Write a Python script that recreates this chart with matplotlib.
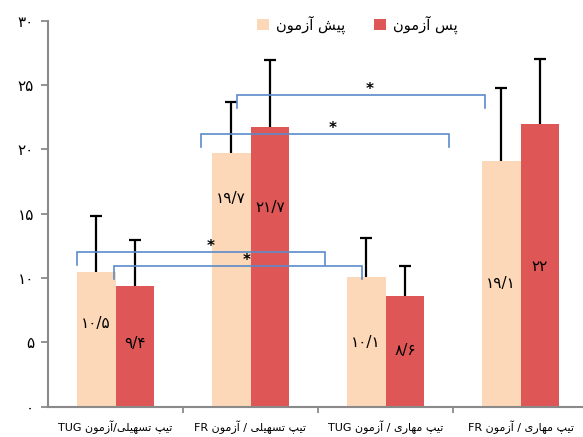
import re
import numpy as np
import matplotlib
matplotlib.use("Agg")
import matplotlib.pyplot as plt

plt.rcParams["font.family"] = ["DejaVu Sans"]

# data
categories = ["تیپ تسهیلی/آزمون TUG", "تیپ تسهیلی / آزمون FR",
              "تیپ مهاری / آزمون TUG", "تیپ مهاری / آزمون FR"]
pre_label = "پیش آزمون"
post_label = "پس آزمون"
pre_vals = [10.5, 19.7, 10.1, 19.1]
post_vals = [9.4, 21.7, 8.6, 22.0]
pre_err = [4.3, 4.0, 3.0, 5.7]
post_err = [3.55, 5.25, 2.35, 5.0]
y_ticks = [0, 5, 10, 15, 20, 25, 30]
# significance brackets: (x start, x end, height) in axis units
brackets = [(-0.285, 1.55, 12.0), (-0.01, 1.825, 10.9),
            (0.635, 2.47, 21.2), (0.9, 2.735, 24.2)]
star_x = [0.705, 0.975, 1.61, 1.885]

# where the value labels sit inside the bars (layout only)
pre_label_y = [6.5, 16.15, 5.0, 9.6]
post_label_y = [4.95, 15.5, 4.4, 10.9]

C_PRE, C_POST, C_BR = "#FCD8B8", "#DE5656", "#5B8BC9"
GREY = "#8A8A8A"

# ---- minimal Persian shaping (matplotlib has no bidi / joining) ----
FORMS = {  # isolated, final, initial, medial
    "ا": ("\uFE8D", "\uFE8E", None, None),
    "آ": ("\uFE81", "\uFE82", None, None),
    "ز": ("\uFEAF", "\uFEB0", None, None),
    "ر": ("\uFEAD", "\uFEAE", None, None),
    "و": ("\uFEED", "\uFEEE", None, None),
    "م": ("\uFEE1", "\uFEE2", "\uFEE3", "\uFEE4"),
    "ن": ("\uFEE5", "\uFEE6", "\uFEE7", "\uFEE8"),
    "س": ("\uFEB1", "\uFEB2", "\uFEB3", "\uFEB4"),
    "ش": ("\uFEB5", "\uFEB6", "\uFEB7", "\uFEB8"),
    "ت": ("\uFE95", "\uFE96", "\uFE97", "\uFE98"),
    "ه": ("\uFEE9", "\uFEEA", "\uFEEB", "\uFEEC"),
    "ل": ("\uFEDD", "\uFEDE", "\uFEDF", "\uFEE0"),
    "ی": ("\uFBFC", "\uFBFD", "\uFBFE", "\uFBFF"),
    "پ": ("\uFB56", "\uFB57", "\uFB58", "\uFB59"),
}


def shape_word(w):
    out = []
    for i, ch in enumerate(w):
        if ch not in FORMS:
            out.append(ch)
            continue
        prev = w[i - 1] if i > 0 else None
        nxt = w[i + 1] if i + 1 < len(w) else None
        join_prev = prev in FORMS and FORMS[prev][2] is not None
        join_next = nxt in FORMS and FORMS[ch][2] is not None
        iso, fin, ini, med = FORMS[ch]
        if join_prev and join_next:
            out.append(med)
        elif join_prev:
            out.append(fin)
        elif join_next:
            out.append(ini)
        else:
            out.append(iso)
    return "".join(reversed(out))


def rtl(text):
    tokens = re.findall(r"[^\s/]+|\s+|/", text)
    res = []
    for t in reversed(tokens):
        res.append(shape_word(t) if any(c in FORMS for c in t) else t)
    return "".join(res)


FA_DIGITS = str.maketrans("0123456789.", "۰۱۲۳۴۵۶۷۸۹/")


def fa_num(v):
    return f"{v:g}".translate(FA_DIGITS)


fig = plt.figure(figsize=(5.83, 4.37), dpi=100)
ax = fig.add_axes([48 / 583, 30.3 / 437, 540 / 583, 386 / 437])

x = np.arange(len(categories))
w = 0.287
cap = 0.045
ax.bar(x - w / 2, pre_vals, w, color=C_PRE, label=rtl(pre_label), zorder=2)
ax.bar(x + w / 2, post_vals, w, color=C_POST, label=rtl(post_label), zorder=2)

# upper-only error bars (Excel style: no cap at the bar top)
for xs, vals, err in [(x - w / 2, pre_vals, pre_err), (x + w / 2, post_vals, post_err)]:
    tops = np.array(vals) + np.array(err)
    ax.vlines(xs, vals, tops, color="black", lw=1.6, zorder=3)
    ax.hlines(tops, xs - cap, xs + cap, color="black", lw=1.6, zorder=3)

for i in range(len(x)):
    ax.text(x[i] - w / 2, pre_label_y[i], fa_num(pre_vals[i]), ha="center",
            va="center", fontsize=11, zorder=4)
    ax.text(x[i] + w / 2, post_label_y[i], fa_num(post_vals[i]), ha="center",
            va="center", fontsize=11, zorder=4)

for (x0, x1, h), sx in zip(brackets, star_x):
    ax.plot([x0, x0, x1, x1], [h - 1, h, h, h - 1], color=C_BR, lw=1.2,
            zorder=5, solid_joinstyle="miter")
    ax.text(sx, h + 0.45, "*", ha="center", va="center", fontsize=11,
            fontweight="bold", zorder=5)

ax.set_xlim(-0.5, 3.5)
ax.set_ylim(0, 30)
ax.set_yticks(y_ticks)
ax.set_yticklabels([fa_num(v) for v in y_ticks], fontsize=11)
ax.set_xticks(x)
ax.set_xticklabels([rtl(c) for c in categories], fontsize=8)
ax.set_xticks(x[:-1] + 0.5, minor=True)
ax.tick_params(axis="x", which="major", length=0, pad=10)
ax.tick_params(axis="x", which="minor", length=4, width=1.3, color=GREY, direction="out")
ax.tick_params(axis="y", length=5, width=1.3, color=GREY, direction="out", pad=5)

for side in ["top", "right"]:
    ax.spines[side].set_visible(False)
for side in ["left", "bottom"]:
    ax.spines[side].set_color(GREY)
    ax.spines[side].set_linewidth(1.5)

fig.legend(loc="center", bbox_to_anchor=(0.613, 0.943), ncol=2, frameon=False,
           fontsize=10.5, handlelength=0.8, handleheight=0.8, handletextpad=0.5,
           columnspacing=2.0)

fig.savefig("out.png", dpi=100)
